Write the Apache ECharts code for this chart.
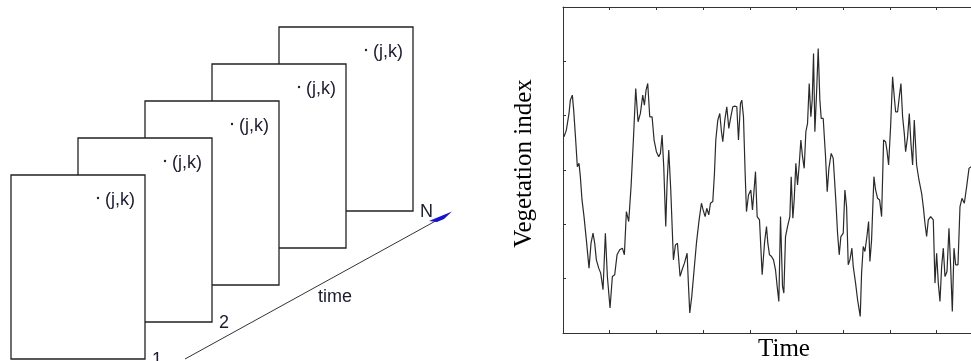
<!DOCTYPE html>
<html lang="en">
<head>
<meta charset="UTF-8">
<title>Vegetation index time series</title>
<script src="https://cdn.jsdelivr.net/npm/echarts@6/dist/echarts.min.js"></script>
<style>html,body{margin:0;padding:0;background:#fff}</style>
</head>
<body>
<div id="main" style="width:971px;height:361px"></div>
<script>
// time (days) and vegetation index (x1000)
const days = [3,10,18,22,28,32,38,43,48,52,57,63,70,78,84,90,95,100,107,113,120,127,133,141,148,155,162,170,178,184,
  190,197,204,211,218,225,232,239,244,249,254,260,267,273,280,287,292,297,302,308,312,317,323,331,337,343,351,357,364,372,
  376,380,386,393,400,408,415,420,426,431,437,442,449,454,458,464,470,475,479,485,491,497,503,509,515,521,526,532,536,541,
  546,550,556,563,568,572,577,582,589,597,604,610,614,619,625,631,637,642,647,652,658,662,667,673,680,684,689,693,698,703,
  708,713,718,723,728,733,738,743,747,751,755,760,765,770,774,780,787,792,797,804,810,814,818,823,828,833,840,845,850,855,
  860,866,870,877,883,891,895,900,905,911,916,920,925,932,937,943,949,955,961,967,971,976,982,988,993,997,1003,1008,1013,1018,
  1023,1027,1033,1038,1043,1048,1053,1060,1067,1075,1080,1085,1090,1095,1102,1110,1115,1120,1125,1130,1135,1140,1145,1151,1157,1162,
  1167,1172,1177,1184,1190,1196,1203,1210,1217,1223];
const index = [590,610,660,700,715,670,580,500,510,470,400,350,280,195,270,300,270,220,195,180,130,300,170,75,170,175,235,250,255,235,
  365,335,440,580,735,635,660,715,685,730,750,650,650,580,545,530,540,595,500,320,450,550,430,220,265,270,170,190,210,240,
  145,60,110,190,270,340,390,370,350,375,355,390,395,480,580,640,660,605,575,640,680,615,650,680,682,680,580,690,700,650,
  480,365,415,430,370,420,485,350,340,175,270,320,270,235,230,220,190,140,95,350,140,120,290,320,350,470,345,400,510,445,
  505,580,530,495,605,630,750,650,700,840,605,720,855,700,645,645,530,425,495,540,525,460,395,300,235,290,300,430,380,205,
  220,255,200,150,100,50,180,260,245,290,335,215,280,470,430,405,400,350,580,575,550,505,620,770,710,665,665,710,750,650,
  600,545,590,660,570,505,640,505,460,420,380,330,290,340,350,340,150,240,150,95,200,255,170,185,315,200,
  65,255,205,205,380,405,390,440,495,500];

// schematic: stack of image frames along time
const frameNames = ['1', '2', '', '', 'N'];
const pixelLabel = '(j,k)';

const txtFont = '18px "Liberation Sans", Arial, sans-serif';
const ink = '#222';
const labelInk = '#1b1b30';
const graphics = [];
for (let i = frameNames.length - 1; i >= 0; i--) {
    const left = 11 + 67 * i, top = 175 - 37 * i, w = 134, h = 184;
    const z = 10 + (5 - i);
    graphics.push({
        type: 'rect', shape: {x: left, y: top, width: w, height: h},
        style: {fill: '#fff', stroke: ink, lineWidth: 1.3}, z: z
    });
    graphics.push({
        type: 'circle', shape: {cx: left + 87, cy: top + 23, r: 1.2},
        style: {fill: ink}, z: z
    });
    graphics.push({
        type: 'text', x: left + 94, y: top + 25, z: z,
        style: {text: pixelLabel, font: txtFont, fill: labelInk, verticalAlign: 'middle'}
    });
    if (frameNames[i]) {
        graphics.push({
            type: 'text', x: left + w + 7, y: top + h + 1.5, z: z,
            style: {text: frameNames[i], font: txtFont, fill: labelInk, verticalAlign: 'middle'}
        });
    }
}
graphics.push({type: 'line', shape: {x1: 185, y1: 359, x2: 441, y2: 218},
    style: {stroke: '#333', lineWidth: 1}, z: 30});
graphics.push({type: 'polygon', shape: {points: [[429, 221], [452, 211.5], [444, 219], [437, 222]]},
    style: {fill: '#1515c8'}, z: 31});
graphics.push({type: 'text', x: 318, y: 297.5, z: 30,
    style: {text: 'time', font: txtFont, fill: labelInk, verticalAlign: 'middle'}});

const axisColor = '#333';
const serif = '"Liberation Serif", "Times New Roman", serif';
const xBase = {
    type: 'value', min: 0, max: 1223, interval: 140,
    axisLine: {show: true, lineStyle: {color: axisColor, width: 1}},
    axisTick: {show: true, inside: true, length: 3, lineStyle: {color: axisColor}},
    axisLabel: {show: false}, splitLine: {show: false}
};

let myChart = echarts.init(document.getElementById('main'));
let option = {
    animation: false,
    backgroundColor: '#fff',
    grid: {left: 563, right: 0, top: 7, bottom: 28, outerBoundsMode: 'none'},
    xAxis: [
        Object.assign({}, xBase, {
            position: 'bottom', name: 'Time', nameLocation: 'middle', nameGap: 4,
            nameTextStyle: {fontFamily: serif, fontSize: 25, color: '#000', padding: [0, 0, 0, 34]}
        }),
        Object.assign({}, xBase, {position: 'top'})
    ],
    yAxis: {
        type: 'value', min: 0, max: 980, interval: 980 / 6,
        axisLine: {show: true, lineStyle: {color: axisColor, width: 1}},
        axisTick: {show: true, inside: true, length: 3, lineStyle: {color: axisColor}},
        axisLabel: {show: false}, splitLine: {show: false},
        name: 'Vegetation index', nameLocation: 'middle', nameGap: 26, nameRotate: 90,
        nameTextStyle: {fontFamily: serif, fontSize: 25, color: '#000', padding: [0, 0, 0, 13]}
    },
    series: [{
        type: 'line', xAxisIndex: 0,
        data: days.map((d, i) => [d, index[i]]),
        showSymbol: false, symbol: 'none',
        lineStyle: {color: '#2a2a2a', width: 1.2}
    }],
    graphic: graphics
};
myChart.setOption(option);
</script>
</body>
</html>
